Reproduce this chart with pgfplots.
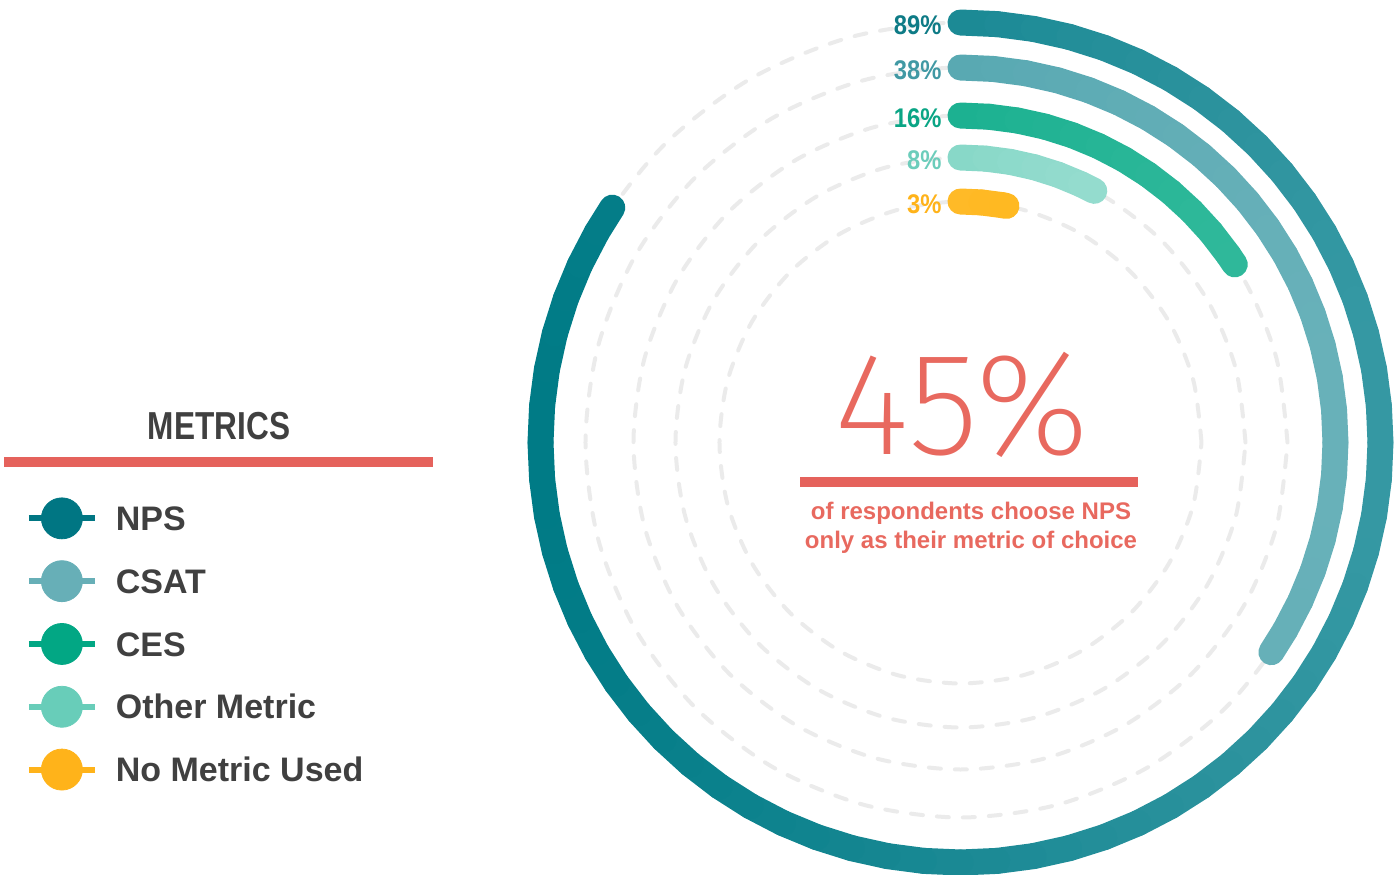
\documentclass[border=0pt]{standalone}
\usepackage{pgfplots}
\usepackage{pgfplotstable}
\usepgfplotslibrary{polar}
\pgfplotsset{compat=1.18}
\usepackage{fontspec}
\setmainfont{Liberation Sans}
\newfontfamily\condA{Liberation Sans}[FakeStretch=0.81]
\newfontfamily\condB{Liberation Sans}[FakeStretch=0.88]
% thin face for the big number: first one that is installed
\IfFontExistsTF{Fira Sans ExtraLight}{\newfontfamily\thinfont{Fira Sans ExtraLight}}{%
\IfFontExistsTF{Fira Sans Thin}{\newfontfamily\thinfont{Fira Sans Thin}}{%
\IfFontExistsTF{Lato Hairline}{\newfontfamily\thinfont{Lato Hairline}}{%
\IfFontExistsTF{Fira Sans Light}{\newfontfamily\thinfont{Fira Sans Light}}{%
\IfFontExistsTF{Lato Light}{\newfontfamily\thinfont{Lato Light}}{%
\IfFontExistsTF{DejaVu Sans ExtraLight}{\newfontfamily\thinfont{DejaVu Sans ExtraLight}}{%
\IfFontExistsTF{Open Sans Light}{\newfontfamily\thinfont{Open Sans Light}}{%
\newfontfamily\thinfont{Liberation Sans}}}}}}}}

% ring gradients (left colour -> right colour)
\definecolor{npsL}{HTML}{007B86}\definecolor{npsR}{HTML}{3598A3}
\definecolor{csatL}{HTML}{48A0AB}\definecolor{csatR}{HTML}{68B1B9}
\definecolor{cesL}{HTML}{02A785}\definecolor{cesR}{HTML}{33BA9C}
\definecolor{othL}{HTML}{6BCEBA}\definecolor{othR}{HTML}{A3E1D5}
\definecolor{noL}{HTML}{FFC653}\definecolor{noR}{HTML}{FFB000}
% legend and labels
\definecolor{npsC}{HTML}{007683}\definecolor{csatC}{HTML}{67AFB7}
\definecolor{cesC}{HTML}{02A784}\definecolor{othC}{HTML}{68CDB9}
\definecolor{noC}{HTML}{FFB31A}
\definecolor{labA}{HTML}{0E7B86}\definecolor{labB}{HTML}{4199A4}
\definecolor{labC}{HTML}{0AA585}\definecolor{labD}{HTML}{6CCDBB}
\definecolor{labE}{HTML}{FFB31A}
\definecolor{track}{HTML}{EBEBEB}
\definecolor{coral}{HTML}{E8695F}
\definecolor{barred}{HTML}{E5625C}
\definecolor{legtext}{HTML}{404040}

\pgfplotsset{
  colormap={npsmap}{color=(npsL) color=(npsR)},
  colormap={csatmap}{color=(csatL) color=(csatR)},
  colormap={cesmap}{color=(cesL) color=(cesR)},
  colormap={othmap}{color=(othL) color=(othR)},
  colormap={nomap}{color=(noL) color=(noR)},
  ring/.style={mesh, point meta=explicit, line width=13pt, line cap=round, forget plot},
  trackline/.style={smooth, draw=track, line width=2pt, dash pattern=on 6pt off 7pt, line cap=round, forget plot},
}

% dashed background tracks (angle, radius in px)
\pgfplotstableread{
angle r1 r2 r3 r4 r5
0   420 375 327 285 241
15  420 375 327 285 241
30  420 375 327 285 241
45  420 375 327 285 241
60  420 375 327 285 241
75  420 375 327 285 241
90  420 375 327 285 241
105 420 375 327 285 241
120 420 375 327 285 241
135 420 375 327 285 241
150 420 375 327 285 241
165 420 375 327 285 241
180 420 375 327 285 241
195 420 375 327 285 241
210 420 375 327 285 241
225 420 375 327 285 241
240 420 375 327 285 241
255 420 375 327 285 241
270 420 375 327 285 241
285 420 375 327 285 241
300 420 375 327 285 241
315 420 375 327 285 241
330 420 375 327 285 241
345 420 375 327 285 241
360 420 375 327 285 241
}\tracks

\begin{document}
\begin{tikzpicture}
\path[use as bounding box] (0,0) rectangle (697pt,437pt);
\begin{polaraxis}[
    at={(480.25pt,215.75pt)}, anchor=center,
    scale only axis, width=440pt, height=440pt,
    ymin=0, ymax=440,
    hide axis, clip=false,
    legend style={at={(-0.5625,0.4380)}, anchor=north west,
      draw=none, fill=none, inner sep=0pt,
      row sep=10.5pt, column sep=9pt,
      font=\fontsize{17}{18}\selectfont\bfseries, text=legtext,
      nodes={inner sep=0pt, text height=12.2pt, text depth=0pt}},
    legend cell align=left,
]
\addplot[trackline] table[x=angle, y=r1] {\tracks};
\addplot[trackline] table[x=angle, y=r2] {\tracks};
\addplot[trackline] table[x=angle, y=r3] {\tracks};
\addplot[trackline] table[x=angle, y=r4] {\tracks};
\addplot[trackline] table[x=angle, y=r5] {\tracks};

% NPS 89%
\addplot[ring, colormap name=npsmap, point meta min=-1, point meta max=1] coordinates {
 (90,420)[0] (85,420)[.087] (80,420)[.174] (75,420)[.259] (70,420)[.342]
 (65,420)[.423] (60,420)[.5] (55,420)[.574] (50,420)[.643] (45,420)[.707]
 (40,420)[.766] (35,420)[.819] (30,420)[.866] (25,420)[.906] (20,420)[.940]
 (15,420)[.966] (10,420)[.985] (5,420)[.996] (0,420)[1] (-5,420)[.996]
 (-10,420)[.985] (-15,420)[.966] (-20,420)[.940] (-25,420)[.906] (-30,420)[.866]
 (-35,420)[.819] (-40,420)[.766] (-45,420)[.707] (-50,420)[.643] (-55,420)[.574]
 (-60,420)[.5] (-65,420)[.423] (-70,420)[.342] (-75,420)[.259] (-80,420)[.174]
 (-85,420)[.087] (-90,420)[0] (-95,420)[-.087] (-100,420)[-.174] (-105,420)[-.259]
 (-110,420)[-.342] (-115,420)[-.423] (-120,420)[-.5] (-125,420)[-.574] (-130,420)[-.643]
 (-135,420)[-.707] (-140,420)[-.766] (-145,420)[-.819] (-150,420)[-.866] (-155,420)[-.906]
 (-160,420)[-.940] (-165,420)[-.966] (-170,420)[-.985] (-175,420)[-.996] (-180,420)[-1]
 (-185,420)[-.996] (-190,420)[-.985] (-195,420)[-.966] (-200,420)[-.940] (-205,420)[-.906]
 (-210,420)[-.866] (-214,420)[-.829]
};
% CSAT 38%
\addplot[ring, colormap name=csatmap, point meta min=0, point meta max=1] coordinates {
 (90,375)[0] (85,375)[.087] (80,375)[.174] (75,375)[.259] (70,375)[.342]
 (65,375)[.423] (60,375)[.5] (55,375)[.574] (50,375)[.643] (45,375)[.707]
 (40,375)[.766] (35,375)[.819] (30,375)[.866] (25,375)[.906] (20,375)[.940]
 (15,375)[.966] (10,375)[.985] (5,375)[.996] (0,375)[1] (-5,375)[.996]
 (-10,375)[.985] (-15,375)[.966] (-20,375)[.940] (-25,375)[.906] (-30,375)[.866]
 (-34,375)[.829]
};
% CES 16%
\addplot[ring, colormap name=cesmap, point meta min=0, point meta max=.839] coordinates {
 (90,327)[0] (85,327)[.087] (80,327)[.174] (75,327)[.259] (70,327)[.342]
 (65,327)[.423] (60,327)[.5] (55,327)[.574] (50,327)[.643] (45,327)[.707]
 (40,327)[.766] (35,327)[.819] (33,327)[.839]
};
% Other metric 8%
\addplot[ring, colormap name=othmap, point meta min=0, point meta max=.469] coordinates {
 (90,285)[0] (85,285)[.087] (80,285)[.174] (75,285)[.259] (70,285)[.342]
 (65,285)[.423] (62,285)[.469]
};
% No metric used 3%
\addplot[ring, colormap name=nomap, point meta min=0, point meta max=.191] coordinates {
 (90,241)[0] (85,241)[.087] (80,241)[.174] (79,241)[.191]
};

\addlegendimage{legend image code/.code={
  \draw[line width=3pt, npsC] (0pt,0pt) -- (33pt,0pt);
  \fill[npsC] (16.5pt,0pt) circle[radius=10.25pt];}}
\addlegendentry{NPS}
\addlegendimage{legend image code/.code={
  \draw[line width=3pt, csatC] (0pt,0pt) -- (33pt,0pt);
  \fill[csatC] (16.5pt,0pt) circle[radius=10.25pt];}}
\addlegendentry{CSAT}
\addlegendimage{legend image code/.code={
  \draw[line width=3pt, cesC] (0pt,0pt) -- (33pt,0pt);
  \fill[cesC] (16.5pt,0pt) circle[radius=10.25pt];}}
\addlegendentry{CES}
\addlegendimage{legend image code/.code={
  \draw[line width=3pt, othC] (0pt,0pt) -- (33pt,0pt);
  \fill[othC] (16.5pt,0pt) circle[radius=10.25pt];}}
\addlegendentry{Other Metric}
\addlegendimage{legend image code/.code={
  \draw[line width=3pt, noC] (0pt,0pt) -- (33pt,0pt);
  \fill[noC] (16.5pt,0pt) circle[radius=10.25pt];}}
\addlegendentry{No Metric Used}

\begin{scope}[every node/.style={anchor=east, xshift=-6pt, yshift=-1.2pt,
    font=\condB\bfseries\fontsize{13.5}{14}\selectfont}]
\node[text=labA] at (axis cs:90,420) {89\%};
\node[text=labB] at (axis cs:90,375) {38\%};
\node[text=labC] at (axis cs:90,327) {16\%};
\node[text=labD] at (axis cs:90,285) {8\%};
\node[text=labE] at (axis cs:90,241) {3\%};
\end{scope}
\end{polaraxis}

% legend heading
\node[anchor=base, text=legtext, font=\condA\bfseries\fontsize{19.5}{21}\selectfont] at (109.5pt,217pt) {METRICS};
\fill[barred] (2pt,203.5pt) rectangle (216.5pt,208.5pt);

% centre text
\node[anchor=base, text=coral, inner sep=0pt, font=\thinfont\fontsize{73}{75}\selectfont] at (481pt,209.5pt) {45\%};
\fill[barred] (400pt,193.5pt) rectangle (569pt,198.5pt);
\node[anchor=base, text=coral, inner sep=0pt, font=\bfseries\fontsize{12}{13}\selectfont] at (485.5pt,177pt) {of respondents choose NPS};
\node[anchor=base, text=coral, inner sep=0pt, font=\bfseries\fontsize{12}{13}\selectfont] at (485.5pt,162.5pt) {only as their metric of choice};
\end{tikzpicture}
\end{document}
